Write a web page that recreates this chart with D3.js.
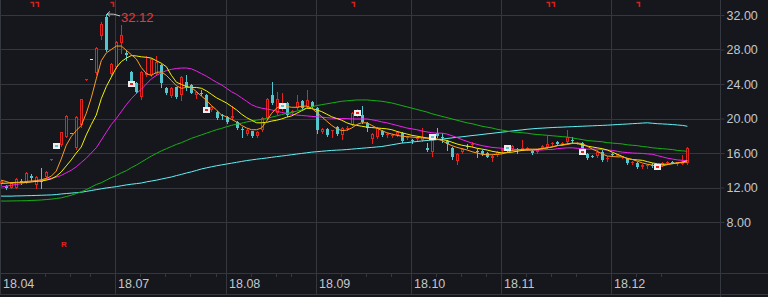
<!DOCTYPE html>
<html lang="zh">
<head>
<meta charset="UTF-8">
<title>K线图</title>
<script src="https://d3js.org/d3.v7.min.js"></script>
<style>
  body { margin: 0; background: #15171c; }
  svg { display: block; }
  text { font-family: "Liberation Sans", Arial, sans-serif; }
</style>
</head>
<body>
<svg id="chart"></svg>
<script>
// 日K数据 (按交易日顺序)
const open = [12.4,12.2,12.0,12.0,12.75,12.6,13.3,12.3,12.8,13.2,
  15.2,16.85,16.9,17.9,18.35,16.6,19.2,24.5,26.95,25.3,
  29.6,31.8,25.2,26.0,28.8,27.6,25.4,24.1,22.5,25.0,
  25.0,25.2,26.2,23.5,22.6,23.6,22.7,24.2,23.9,22.7,
  23.0,22.7,21.0,20.8,20.35,20.2,20.1,19.6,18.8,18.2,
  18.5,18.0,18.7,20.1,22.7,20.6,21.2,21.8,20.65,21.2,
  22.0,21.3,21.9,21.2,18.4,18.8,18.5,19.0,18.1,18.75,
  19.25,20.4,20.4,19.5,17.6,17.8,18.6,18.1,18.0,18.1,
  18.3,17.8,17.45,17.6,17.5,16.6,16.1,18.3,17.9,17.4,
  16.6,15.1,16.1,16.85,16.9,16.2,16.2,16.0,15.4,15.8,
  16.2,16.6,16.5,16.45,16.4,16.4,16.2,16.1,16.6,16.7,
  17.0,17.3,17.0,17.3,17.55,17.1,17.2,15.9,15.7,15.6,
  16.1,15.3,15.85,15.7,15.5,15.3,14.9,14.8,14.4,14.5,
  14.65,14.2,14.6,14.85,15.0,14.75,14.75,14.8];
const high = [12.9,12.3,12.6,13.1,13.0,13.8,13.6,13.3,14.3,13.9,
  15.25,16.85,18.45,20.4,18.35,20.3,22.3,24.55,26.95,28.3,
  31.2,32.12,26.4,29.0,30.8,27.9,25.5,24.2,25.5,27.3,
  27.0,27.2,26.3,23.6,23.6,23.7,24.9,25.0,24.0,23.2,
  23.3,22.8,21.4,20.9,20.5,20.3,21.5,19.7,19.0,18.8,
  18.6,18.5,20.2,22.4,24.2,23.1,23.0,21.9,21.0,22.7,
  22.1,23.3,22.0,21.3,18.9,18.9,18.7,19.1,19.0,19.1,
  20.7,21.1,21.5,19.6,18.3,19.0,18.7,18.3,18.2,18.5,
  18.4,18.0,17.6,17.9,18.9,17.2,17.6,18.9,18.3,17.5,
  16.7,16.0,16.6,17.0,17.3,16.5,16.3,16.1,15.8,16.2,
  16.6,16.7,16.9,16.6,17.5,16.7,16.3,16.4,16.9,18.0,
  17.3,17.4,17.3,18.7,17.8,17.3,17.3,16.0,15.8,16.3,
  16.4,15.7,16.0,15.9,15.7,15.4,15.1,14.9,14.7,14.7,
  14.8,14.5,14.9,15.1,15.1,15.0,15.8,16.7];
const low = [12.3,11.8,11.9,11.9,12.4,12.5,12.8,12.0,12.0,13.1,
  15.2,16.8,16.85,17.8,18.3,16.5,19.0,24.5,26.95,25.2,
  29.2,27.8,25.1,25.9,27.6,26.8,24.0,23.0,22.3,24.9,
  24.9,25.0,23.6,22.8,22.5,22.4,22.2,23.3,22.9,22.4,
  22.7,21.0,20.9,20.0,20.0,19.5,20.0,18.8,17.9,18.1,
  17.9,17.9,18.6,20.0,21.7,20.5,21.0,20.3,20.6,21.1,
  21.1,21.2,21.2,18.3,18.3,18.0,17.9,18.1,17.6,18.7,
  19.2,20.3,19.5,18.5,17.2,17.7,18.0,17.9,17.8,18.0,
  17.3,17.6,17.2,17.5,17.4,16.2,15.65,17.9,17.3,16.35,
  15.3,14.7,16.0,16.6,16.8,15.5,15.8,15.5,15.1,15.7,
  16.1,16.2,16.4,16.0,16.3,16.3,15.9,16.0,16.5,16.6,
  16.9,16.9,16.9,17.2,17.2,17.0,16.3,15.3,15.5,15.5,
  15.1,15.1,15.6,15.6,15.4,14.7,14.7,14.3,14.3,14.3,
  14.4,14.1,14.5,14.7,14.8,14.6,14.7,14.7];
const close = [12.7,11.9,12.5,13.0,12.65,13.7,13.1,13.2,12.6,13.8,
  15.25,16.8,18.4,20.3,18.3,20.2,22.3,24.55,26.95,28.2,
  31.0,27.9,26.3,28.9,29.7,27.4,24.2,23.1,25.4,25.3,
  26.9,26.6,24.1,22.9,23.5,22.5,24.8,23.6,23.0,23.1,
  22.9,21.2,21.3,20.1,20.25,19.6,20.3,18.9,18.7,18.7,
  18.0,18.4,20.1,22.3,21.8,22.3,21.7,20.4,20.9,21.9,
  21.2,22.1,21.3,18.7,18.8,18.1,18.65,18.2,18.9,18.9,
  20.6,21.0,19.6,18.9,18.2,18.9,18.1,18.2,18.1,18.4,
  17.4,17.9,17.35,17.8,17.8,16.3,17.5,18.0,17.8,17.0,
  15.5,15.9,16.5,16.75,17.1,16.1,15.9,15.55,15.7,16.1,
  16.5,16.3,16.8,16.35,16.6,16.6,16.0,16.3,16.8,17.0,
  17.2,17.0,17.2,17.9,17.45,17.2,16.4,15.4,15.6,16.1,
  15.2,15.45,15.75,15.85,15.65,14.8,15.0,14.4,14.6,14.6,
  14.55,14.45,14.8,14.95,14.85,14.9,14.9,16.6];

// 均线
const ma5 = [12.85,12.7,12.5,12.55,12.6,12.7,12.75,12.8,12.9,13.05,
  13.3,13.9,15.3,16.9,17.9,18.6,19.2,20.6,22.4,24.6,
  26.7,27.6,28.0,28.4,28.4,27.9,27.4,26.9,25.9,25.2,
  25.0,25.35,25.4,25.0,24.4,23.8,23.5,23.6,23.6,23.1,
  22.6,22.1,21.5,21.0,20.4,20.2,19.9,19.6,19.2,18.9,
  18.7,18.7,18.9,19.7,20.6,21.2,21.5,21.4,21.3,21.3,
  21.4,21.45,21.2,20.7,20.2,19.7,19.2,18.8,18.6,18.65,
  18.9,19.3,19.5,19.5,19.2,18.9,18.6,18.35,18.2,18.05,
  17.95,17.9,17.85,17.8,17.75,17.7,17.65,17.6,17.45,17.1,
  16.85,16.65,16.5,16.35,16.15,16.0,15.85,15.8,15.8,15.85,
  15.9,16.05,16.3,16.35,16.4,16.45,16.45,16.45,16.5,16.6,
  16.7,16.85,16.9,17.0,17.1,17.15,17.1,16.8,16.45,16.2,
  15.9,15.65,15.6,15.55,15.55,15.4,15.25,15.05,14.85,14.7,
  14.6,14.5,14.5,14.65,14.8,14.85,14.9,14.95];
const ma10 = [12.5,12.5,12.55,12.6,12.6,12.6,12.65,12.7,12.75,12.85,
  13.0,13.3,13.8,14.5,15.2,16.0,16.7,18.1,19.3,20.4,
  22.3,23.7,24.8,25.9,26.6,27.0,27.3,27.25,27.15,27.1,
  27.0,26.7,26.4,26.0,25.0,24.2,23.95,23.7,23.6,23.6,
  23.5,23.2,22.8,22.4,22.1,21.8,21.4,21.0,20.5,20.1,
  19.8,19.5,19.5,19.55,19.7,19.8,19.95,20.15,20.3,20.6,
  20.9,21.2,21.15,21.0,20.8,20.5,20.2,20.0,19.8,19.5,
  19.3,19.2,19.1,19.0,18.95,18.9,18.85,18.8,18.7,18.5,
  18.35,18.2,18.05,17.95,17.85,17.75,17.7,17.6,17.55,17.45,
  17.25,17.05,16.9,16.8,16.7,16.55,16.45,16.35,16.2,16.1,
  16.0,16.05,16.1,16.2,16.3,16.35,16.35,16.4,16.5,16.6,
  16.7,16.85,16.95,17.05,17.15,17.1,16.95,16.8,16.7,16.6,
  16.5,16.35,16.1,15.85,15.6,15.35,15.25,15.2,15.15,15.0,
  14.85,14.75,14.7,14.7,14.75,14.85,14.95,15.1];
const ma20 = [12.05,12.15,12.25,12.35,12.45,12.6,12.65,12.75,12.85,12.95,
  13.05,13.2,13.4,13.7,14.0,14.4,14.9,15.4,16.0,16.6,
  17.5,18.4,19.3,20.0,20.8,21.6,22.3,22.9,23.4,24.0,
  24.6,25.0,25.3,25.55,25.7,25.8,25.85,25.85,25.75,25.5,
  25.2,24.9,24.55,24.2,23.9,23.5,23.1,22.8,22.4,22.0,
  21.6,21.35,21.2,21.1,21.0,20.85,20.7,20.6,20.5,20.4,
  20.35,20.3,20.25,20.2,20.15,20.1,20.05,20.0,20.0,20.0,
  19.95,19.95,19.95,19.95,19.85,19.75,19.6,19.5,19.35,19.2,
  19.05,18.9,18.8,18.7,18.55,18.45,18.35,18.3,18.3,18.2,
  18.0,17.8,17.55,17.35,17.15,17.0,16.85,16.75,16.65,16.6,
  16.55,16.5,16.45,16.4,16.35,16.35,16.35,16.35,16.35,16.4,
  16.4,16.5,16.55,16.6,16.6,16.55,16.5,16.45,16.45,16.45,
  16.4,16.35,16.3,16.2,16.1,16.05,16.0,15.97,15.95,15.9,
  15.85,15.7,15.55,15.4,15.3,15.2,15.15,15.1];
const ma60 = [10.43,10.43,10.44,10.45,10.46,10.47,10.5,10.52,10.55,10.6,
  10.65,10.72,10.8,10.95,11.1,11.3,11.5,11.75,12.05,12.35,
  12.55,12.85,13.15,13.4,13.7,13.95,14.3,14.6,14.95,15.3,
  15.65,15.95,16.25,16.5,16.75,17.0,17.2,17.45,17.7,17.9,
  18.1,18.3,18.5,18.7,18.85,19.05,19.2,19.35,19.45,19.6,
  19.7,19.8,19.9,20.0,20.15,20.3,20.45,20.6,20.7,20.85,
  21.0,21.2,21.35,21.5,21.6,21.7,21.8,21.9,22.0,22.05,
  22.1,22.15,22.15,22.15,22.1,22.05,22.0,21.9,21.8,21.65,
  21.5,21.35,21.2,21.05,20.9,20.75,20.55,20.4,20.25,20.1,
  19.95,19.8,19.65,19.5,19.4,19.25,19.1,19.0,18.9,18.75,
  18.65,18.55,18.45,18.4,18.35,18.3,18.2,18.15,18.1,18.05,
  18.0,17.95,17.9,17.85,17.75,17.65,17.55,17.45,17.4,17.35,
  17.3,17.2,17.15,17.1,17.05,16.95,16.9,16.85,16.75,16.7,
  16.6,16.55,16.5,16.45,16.4,16.3,16.25,16.2];
const ma120 = [11.0,11.0,11.0,11.02,11.03,11.05,11.06,11.08,11.1,11.12,
  11.14,11.18,11.25,11.3,11.35,11.4,11.45,11.55,11.65,11.75,
  11.85,11.95,12.02,12.1,12.2,12.3,12.38,12.45,12.52,12.65,
  12.75,12.85,12.98,13.1,13.22,13.38,13.52,13.68,13.82,13.98,
  14.15,14.28,14.4,14.52,14.62,14.72,14.82,14.92,15.02,15.12,
  15.2,15.28,15.35,15.42,15.5,15.58,15.65,15.72,15.8,15.88,
  15.95,16.02,16.1,16.15,16.2,16.25,16.3,16.33,16.36,16.4,
  16.45,16.5,16.55,16.6,16.65,16.7,16.75,16.85,16.95,17.05,
  17.15,17.2,17.27,17.33,17.4,17.45,17.5,17.55,17.6,17.68,
  17.75,17.82,17.88,17.95,18.02,18.08,18.15,18.22,18.28,18.35,
  18.42,18.48,18.55,18.62,18.68,18.75,18.8,18.85,18.88,18.92,
  18.95,18.98,19.0,19.03,19.05,19.08,19.1,19.13,19.15,19.18,
  19.2,19.23,19.26,19.3,19.33,19.36,19.4,19.43,19.47,19.5,
  19.45,19.4,19.37,19.34,19.3,19.25,19.2,19.1];

// 坐标轴
const priceTicks = [8, 12, 16, 20, 24, 28, 32];
const monthLabels = ["18.04", "18.07", "18.08", "18.09", "18.10", "18.11", "18.12"];
const monthStart = [0, 23, 45, 63, 82, 100, 122];
const weekTicks = [9, 14, 18, 28, 33, 38, 43, 50, 55, 58, 68, 73, 78, 87, 92, 97, 105, 110, 115, 127, 132];

// 信息地雷 / 顶部标记
const markerIdx = [11, 26, 41, 56, 71, 86, 101, 116, 131];
const markerPrice = [16.8, 24.05, 21.0, 21.5, 20.6, 17.9, 16.6, 16.1, 14.4];
const markerUp = [false, true, true, false, true, false, false, true, true];
const flagIdx = [6, 7, 22, 70, 109, 110, 127];

const W = 768, H = 297;
const bg = "#15171c", grid = "#34373e";
const upColor = "#e5231e", downColor = "#53c6cf";

const svg = d3.select("#chart").attr("width", W).attr("height", H);
svg.append("rect").attr("width", W).attr("height", H).attr("fill", bg);

const x = d3.scaleLinear().domain([0, 137]).range([1.1, 687.4]);
const y = d3.scaleLinear().domain([8, 32]).range([222, 15]);
const px = i => Math.round(x(i));

// 网格
svg.append("g").selectAll("line").data(priceTicks).join("line")
  .attr("x1", 0).attr("x2", 720)
  .attr("y1", d => Math.round(y(d)) + 0.5).attr("y2", d => Math.round(y(d)) + 0.5)
  .attr("stroke", grid);
svg.append("g").selectAll("line").data(monthStart).join("line")
  .attr("x1", d => px(d) - 0.5).attr("x2", d => px(d) - 0.5)
  .attr("y1", 0).attr("y2", 294)
  .attr("stroke", grid);
svg.append("line").attr("x1", 0).attr("x2", W).attr("y1", 273.5).attr("y2", 273.5).attr("stroke", grid);
svg.append("line").attr("x1", 0).attr("x2", W).attr("y1", 294.5).attr("y2", 294.5).attr("stroke", grid);
svg.append("line").attr("x1", 720.5).attr("x2", 720.5).attr("y1", 0).attr("y2", H).attr("stroke", grid);

// 周刻度
svg.append("g").selectAll("line").data(weekTicks).join("line")
  .attr("x1", d => px(d) - 0.5).attr("x2", d => px(d) - 0.5)
  .attr("y1", 273).attr("y2", 277)
  .attr("stroke", grid);

// 价格轴
const yAxis = svg.append("g").attr("transform", "translate(720.5,0)")
  .call(d3.axisRight(y).tickValues(priceTicks).tickFormat(d3.format(".2f")).tickSize(4).tickPadding(2));
yAxis.select(".domain").remove();
yAxis.selectAll("line").attr("stroke", grid);
yAxis.selectAll("text").attr("fill", "#c4c6ca").style("font-size", "12.5px")
  .style("font-family", "\"Liberation Sans\", Arial, sans-serif");

// 月份标签
svg.append("g").selectAll("text").data(monthLabels).join("text")
  .attr("x", (d, i) => px(monthStart[i]) + 2)
  .attr("y", 288)
  .attr("fill", "#c4c6ca").style("font-size", "12.5px")
  .text(d => d);

// K线
const candles = svg.append("g").attr("shape-rendering", "crispEdges");
close.forEach((c, i) => {
  const o = open[i];
  const col = c > o ? upColor : (c < o ? downColor : "#e8e8e8");
  const cx = px(i);
  const top = Math.round(y(Math.max(o, c)));
  const bot = Math.round(y(Math.min(o, c)));
  candles.append("line")
    .attr("x1", cx + 0.5).attr("x2", cx + 0.5)
    .attr("y1", Math.round(y(high[i]))).attr("y2", Math.round(y(low[i])) + 1)
    .attr("stroke", col);
  if (c > o && bot - top >= 3) {
    candles.append("rect")
      .attr("x", cx - 0.5).attr("y", top + 0.5)
      .attr("width", 2).attr("height", bot - top - 1)
      .attr("fill", bg).attr("stroke", col);
  } else {
    candles.append("rect")
      .attr("x", cx - 1).attr("y", top)
      .attr("width", 3).attr("height", Math.max(1, bot - top))
      .attr("fill", col);
  }
});

// 均线
const line = d3.line().x((d, i) => x(i)).y(d => y(d));
[[ma120, "#5ff2f5"], [ma60, "#16b016"], [ma20, "#ee20ee"], [ma10, "#f2f200"], [ma5, "#ff9c1e"]]
  .forEach(([s, c]) => {
    svg.append("path").datum(s).attr("d", line)
      .attr("fill", "none").attr("stroke", c).attr("stroke-width", 1);
  });

// 信息标记
const mk = svg.append("g").attr("shape-rendering", "crispEdges");
markerIdx.forEach((d, k) => {
  const cx = px(d), cy = Math.round(y(markerPrice[k]));
  mk.append("rect").attr("x", cx - 3).attr("y", cy - 3).attr("width", 7).attr("height", 6).attr("fill", "#eeeeee");
  mk.append("rect").attr("x", cx - 1).attr("y", cy - 1).attr("width", 3).attr("height", 2)
    .attr("fill", markerUp[k] ? upColor : downColor);
});

// 顶部标记
svg.append("g").selectAll("path").data(flagIdx).join("path")
  .attr("d", d => { const cx = px(d); return `M${cx - 0.5},2.5H${cx + 2.5}V7`; })
  .attr("fill", "none").attr("stroke", "#d8201c").attr("stroke-width", 1.6);

// 最高价标注
const hiIdx = high.indexOf(d3.max(high));
const hx = px(hiIdx), hy = y(high[hiIdx]);
svg.append("path")
  .attr("d", `M${hx + 4},${hy - 2.5}L${hx + 1},${hy}L${hx + 4},${hy + 2.5}M${hx + 1},${hy}Q${hx + 8},${hy - 0.5} ${hx + 14},${hy + 2}`)
  .attr("fill", "none").attr("stroke", "#c8c8c8").attr("stroke-width", 1);
svg.append("text").attr("x", hx + 15).attr("y", hy + 8)
  .attr("fill", "#e03c3c").style("font-size", "13px")
  .text(d3.format(".2f")(high[hiIdx]));

// R
svg.append("text").attr("x", 61).attr("y", 247)
  .attr("fill", "#e02020").style("font-size", "8px").style("font-weight", "bold")
  .text("R");
</script>
</body>
</html>
